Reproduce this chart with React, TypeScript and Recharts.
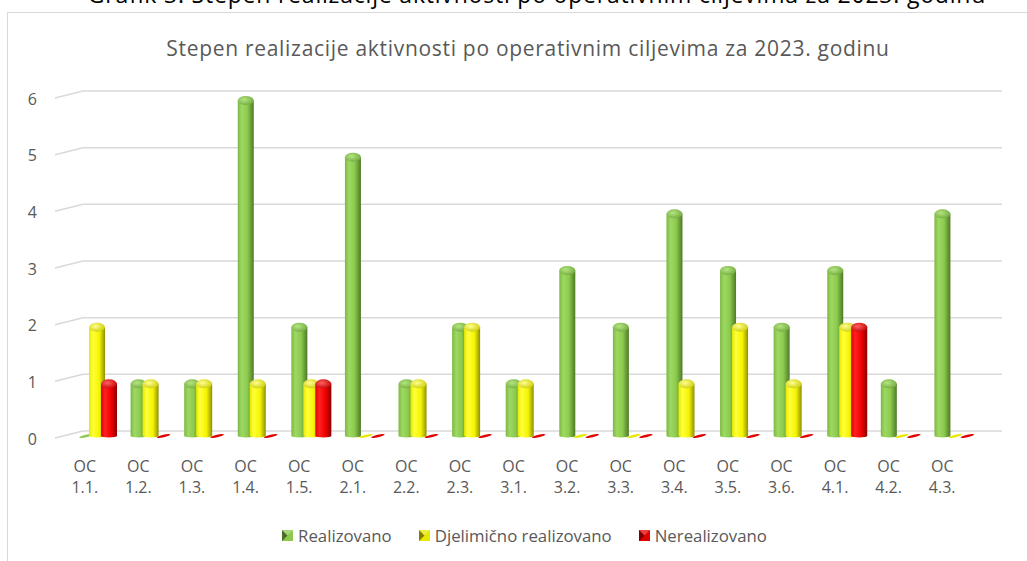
import React from 'react';
import { BarChart, Bar, XAxis, YAxis, CartesianGrid, Legend } from 'recharts';

const categories = [
  'OC 1.1.', 'OC 1.2.', 'OC 1.3.', 'OC 1.4.', 'OC 1.5.', 'OC 2.1.', 'OC 2.2.', 'OC 2.3.',
  'OC 3.1.', 'OC 3.2.', 'OC 3.3.', 'OC 3.4.', 'OC 3.5.', 'OC 3.6.', 'OC 4.1.', 'OC 4.2.', 'OC 4.3.',
];
const realizovano = [0, 1, 1, 6, 2, 5, 1, 2, 1, 3, 2, 4, 3, 2, 3, 1, 4];
const djelimicno = [2, 1, 1, 1, 1, 0, 1, 2, 1, 0, 0, 1, 2, 1, 2, 0, 0];
const nerealizovano = [1, 0, 0, 0, 1, 0, 0, 0, 0, 0, 0, 0, 0, 0, 2, 0, 0];
const yTicks = [0, 1, 2, 3, 4, 5, 6];

const outerTitle = 'Grafik 3. Stepen realizacije aktivnosti po operativnim ciljevima za 2023. godinu';
const chartTitle = 'Stepen realizacije aktivnosti po operativnim ciljevima za 2023. godinu';

const data = categories.map((name, i) => ({
  name,
  realizovano: realizovano[i],
  djelimicno: djelimicno[i],
  nerealizovano: nerealizovano[i],
}));

const FONT = '"Open Sans", Lato, sans-serif';
const TEXT = '#595959';
const GRID = '#d9d9d9';

const tones: Record<string, { flat: string }> = {
  green: { flat: '#8cc84e' },
  yellow: { flat: '#e8e800' },
  red: { flat: '#e00000' },
};

const Cylinder = (props: any) => {
  const { x, y, width, height, tone } = props;
  const cx = x + width / 2;
  const rx = width / 2;
  if (!height || height < 1) {
    return (
      <ellipse
        cx={cx + 1}
        cy={y}
        rx={rx - 1}
        ry={1.3}
        transform={`rotate(-12 ${cx + 1} ${y})`}
        fill={tones[tone].flat}
      />
    );
  }
  const ry = 4.5;
  const bottom = y + height;
  return (
    <g>
      <path
        d={`M${x},${y + ry} L${x},${bottom} A${rx},1.5 0 0 0 ${x + width},${bottom} L${x + width},${y + ry} Z`}
        fill={`url(#grad-${tone})`}
      />
      <ellipse cx={cx} cy={y + ry} rx={rx} ry={ry} fill={`url(#cap-${tone})`} />
    </g>
  );
};

// back-wall gridlines with a small perspective stub on the left
const GridLine = (props: any) => {
  const { x1, x2, y1, index } = props;
  return (
    <polyline
      key={`g-${index}-${y1}`}
      points={`${x1 - 15},${y1 + 2} ${x1 + 13},${y1 - 5} ${x2 + 21},${y1 - 5}`}
      fill="none"
      stroke={GRID}
      strokeWidth={1.5}
    />
  );
};

const CatTick = ({ x, y, payload }: any) => {
  const parts = String(payload.value).split(' ');
  return (
    <text x={x - 12} y={y} textAnchor="middle" fill={TEXT} fontSize={16} fontFamily={FONT}>
      <tspan x={x - 12} dy={28}>{parts[0]}</tspan>
      <tspan x={x - 12} dy={21}>{parts[1]}</tspan>
    </text>
  );
};

const ValTick = ({ x, y, payload }: any) => (
  <text x={x - 25} y={y + 3} dy="0.355em" textAnchor="end" fill={TEXT} fontSize={16} fontFamily={FONT}>
    {payload.value}
  </text>
);

const legendItems = [
  { label: 'Realizovano', tone: 'green' },
  { label: 'Djelimično realizovano', tone: 'yellow' },
  { label: 'Nerealizovano', tone: 'red' },
];

const LegendContent = () => (
  <div style={{ display: 'flex', justifyContent: 'center', gap: 27, fontFamily: FONT, fontSize: 16.8, color: TEXT, paddingLeft: 22 }}>
    {legendItems.map((it) => (
      <div key={it.label} style={{ display: 'flex', alignItems: 'center', gap: 5 }}>
        <svg width={11} height={11}>
          <rect x={0} y={0} width={11} height={11} fill={tones[it.tone].flat} />
          <polygon points="0,0 5.5,5.5 0,11" fill="rgba(0,0,0,0.45)" />
          <polygon points="0,0 11,0 5.5,5.5" fill="rgba(255,255,255,0.25)" />
        </svg>
        <span>{it.label}</span>
      </div>
    ))}
  </div>
);

export default function App() {
  return (
    <div style={{ position: 'absolute', left: 0, top: 0, width: 1027, height: 561, overflow: 'hidden', background: '#fff' }}>
      <div
        style={{
          position: 'absolute', left: 0, width: 1074, top: -22, textAlign: 'center',
          fontFamily: FONT, fontSize: 23, color: '#000', lineHeight: '32px', whiteSpace: 'nowrap',
          letterSpacing: 0.8,
        }}
      >
        {outerTitle}
      </div>
      <div
        style={{
          position: 'absolute', left: 7, top: 12, width: 1100, height: 600,
          borderLeft: `1.5px solid ${GRID}`, borderTop: `1.5px solid ${GRID}`,
        }}
      />
      <div
        style={{
          position: 'absolute', left: 0, width: 1056, top: 33, textAlign: 'center',
          fontFamily: FONT, fontSize: 21, color: TEXT, lineHeight: '30px', whiteSpace: 'nowrap',
          letterSpacing: 0.7,
        }}
      >
        {chartTitle}
      </div>
      <div style={{ position: 'absolute', left: 0, top: 0 }}>
        <BarChart
          width={1027}
          height={561}
          data={data}
          margin={{ top: 96, right: 46, left: 40, bottom: 10 }}
          barSize={16}
          barGap={-4}
        >
          <defs>
            <linearGradient id="grad-green" x1="0" y1="0" x2="1" y2="0">
              <stop offset="0%" stopColor="#7cb844" />
              <stop offset="25%" stopColor="#9ed862" />
              <stop offset="60%" stopColor="#8ccb4e" />
              <stop offset="100%" stopColor="#4e7a26" />
            </linearGradient>
            <linearGradient id="grad-yellow" x1="0" y1="0" x2="1" y2="0">
              <stop offset="0%" stopColor="#e8e800" />
              <stop offset="25%" stopColor="#ffff3a" />
              <stop offset="65%" stopColor="#f4f400" />
              <stop offset="100%" stopColor="#8f8f00" />
            </linearGradient>
            <linearGradient id="grad-red" x1="0" y1="0" x2="1" y2="0">
              <stop offset="0%" stopColor="#e00000" />
              <stop offset="25%" stopColor="#ff2020" />
              <stop offset="65%" stopColor="#ee0000" />
              <stop offset="100%" stopColor="#880000" />
            </linearGradient>
            <radialGradient id="cap-green" cx="0.4" cy="0.4" r="0.7">
              <stop offset="0%" stopColor="#b4e680" />
              <stop offset="100%" stopColor="#6fa53c" />
            </radialGradient>
            <radialGradient id="cap-yellow" cx="0.4" cy="0.4" r="0.7">
              <stop offset="0%" stopColor="#ffff90" />
              <stop offset="100%" stopColor="#caca00" />
            </radialGradient>
            <radialGradient id="cap-red" cx="0.4" cy="0.4" r="0.7">
              <stop offset="0%" stopColor="#ff6060" />
              <stop offset="100%" stopColor="#c00000" />
            </radialGradient>
          </defs>
          <CartesianGrid vertical={false} horizontal={GridLine} />
          <XAxis
            dataKey="name"
            axisLine={false}
            tickLine={false}
            interval={0}
            height={92}
            tick={<CatTick />}
          />
          <YAxis
            domain={[0, 6]}
            ticks={yTicks}
            width={30}
            axisLine={false}
            tickLine={false}
            tick={<ValTick />}
          />
          <Legend
            verticalAlign="bottom"
            content={<LegendContent />}
            wrapperStyle={{ left: 0, width: 1027, top: 524 }}
          />
          <Bar dataKey="realizovano" name="Realizovano" isAnimationActive={false}
            shape={(p: any) => <Cylinder {...p} tone="green" />} />
          <Bar dataKey="djelimicno" name="Djelimično realizovano" isAnimationActive={false}
            shape={(p: any) => <Cylinder {...p} tone="yellow" />} />
          <Bar dataKey="nerealizovano" name="Nerealizovano" isAnimationActive={false}
            shape={(p: any) => <Cylinder {...p} tone="red" />} />
        </BarChart>
      </div>
    </div>
  );
}
